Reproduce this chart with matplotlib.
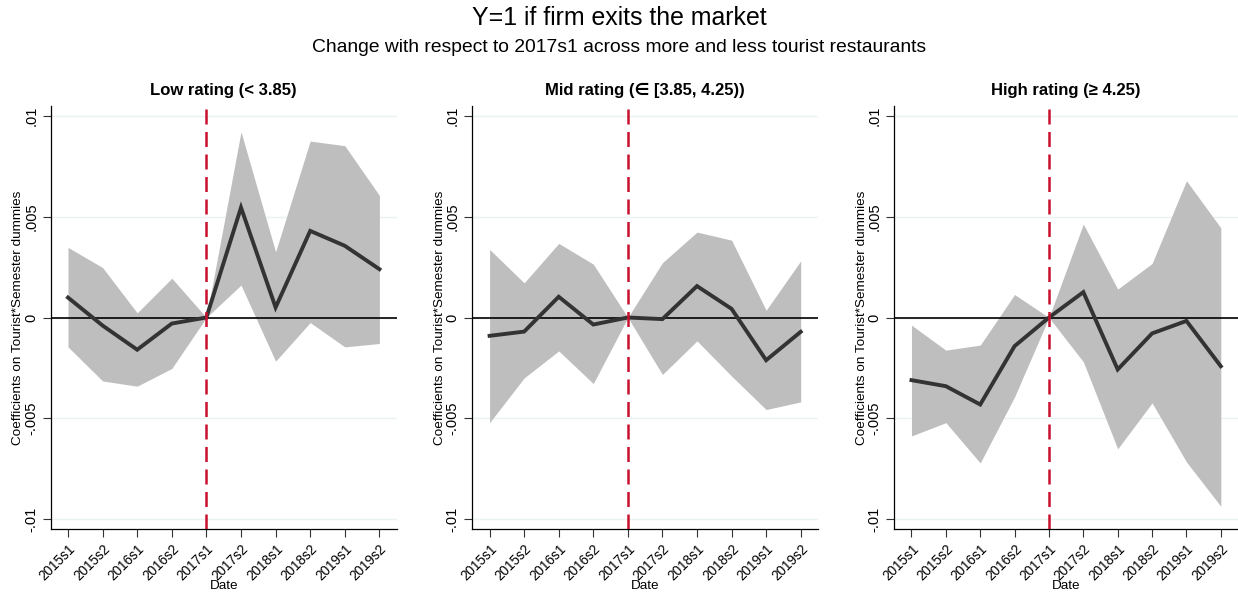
import numpy as np
import matplotlib
matplotlib.use('Agg')
import matplotlib.pyplot as plt

plt.rcParams['font.family'] = ['Liberation Sans', 'DejaVu Sans']

# Data
periods = ['2015s1', '2015s2', '2016s1', '2016s2', '2017s1',
           '2017s2', '2018s1', '2018s2', '2019s1', '2019s2']
panel_titles = ['Low rating (< 3.85)', 'Mid rating (\u2208 [3.85, 4.25))', 'High rating (\u2265 4.25)']

low_coef = [0.00099, -0.0004, -0.0016, -0.0003, 0.0, 0.00546, 0.0005, 0.0043, 0.00356, 0.0024]
low_hi = [0.00348, 0.00248, 0.00023, 0.00195, 0.0, 0.00922, 0.00326, 0.00876, 0.00853, 0.00606]
low_lo = [-0.00146, -0.00315, -0.00341, -0.00253, 0.0, 0.00161, -0.00217, -0.00025, -0.00146, -0.00129]

mid_coef = [-0.00091, -0.0007, 0.00103, -0.00035, 0.0, -0.00008, 0.00156, 0.00043, -0.00212, -0.00071]
mid_hi = [0.00338, 0.00172, 0.00368, 0.00265, 0.0, 0.00272, 0.00424, 0.00384, 0.00036, 0.00281]
mid_lo = [-0.00522, -0.003, -0.00166, -0.00328, 0.0, -0.00283, -0.00116, -0.00291, -0.00457, -0.00419]

high_coef = [-0.00311, -0.00341, -0.00432, -0.00142, 0.0, 0.00126, -0.00258, -0.00079, -0.00017, -0.00242]
high_hi = [-0.00038, -0.00162, -0.00137, 0.00114, 0.0, 0.00464, 0.00141, 0.00268, 0.00679, 0.00445]
high_lo = [-0.00588, -0.00522, -0.00722, -0.00394, 0.0, -0.0022, -0.00652, -0.00424, -0.00717, -0.00937]

yticks = [-0.01, -0.005, 0, 0.005, 0.01]
ytick_labels = ['-.01', '-.005', '0', '.005', '.01']

series = [(low_coef, low_lo, low_hi), (mid_coef, mid_lo, mid_hi), (high_coef, high_lo, high_hi)]

fig = plt.figure(figsize=(12.38, 5.92), dpi=100)
W, H = 1238, 592
lefts = [50.7, 472.3, 894.3]
rights = [396.7, 818, 1238]
top, bottom = 106, 529

x = np.arange(len(periods))
ref_idx = periods.index('2017s1')

for i, (coef, lo, hi) in enumerate(series):
    ax = fig.add_axes([lefts[i] / W, 1 - bottom / H, (rights[i] - lefts[i]) / W, (bottom - top) / H])
    for yt in yticks:
        ax.axhline(yt, color='#eaf2f3', lw=1.0, zorder=0)
    ax.fill_between(x, lo, hi, color='#bebebe', lw=0, zorder=1)
    ax.axhline(0, color='black', lw=1.2, zorder=2)
    ax.plot(x, coef, color='#333333', lw=2.8, zorder=3, solid_joinstyle='miter')
    ax.axvline(ref_idx, color='#c8102e', lw=1.8, ls=(0, (6, 3)), zorder=4)

    ax.set_xlim(-0.5, len(periods) - 0.5)
    ax.set_ylim(-0.0105, 0.0105)
    ax.set_xticks(x)
    ax.set_xticklabels(periods, rotation=45, ha='right', rotation_mode='anchor', fontsize=9.8)
    ax.set_yticks(yticks)
    ax.set_yticklabels(ytick_labels, rotation=90, va='center', fontsize=10.5)
    ax.tick_params(axis='both', length=6, width=0.8, color='#333333', pad=3)
    ax.tick_params(axis='x', pad=3)
    ax.set_xlabel('Date', fontsize=9.7, va='center')
    ax.xaxis.set_label_coords(0.5, -0.135)
    ax.set_ylabel('Coefficients on Tourist*Semester dummies', fontsize=9.7, va='center')
    ax.yaxis.set_label_coords(-0.094, 0.5)
    ax.set_title(panel_titles[i], fontsize=12, fontweight='bold', pad=8)
    for s in ['top', 'right']:
        ax.spines[s].set_visible(False)
    for s in ['left', 'bottom']:
        ax.spines[s].set_linewidth(0.9)

fig.text(0.5, 1 - 18 / H, 'Y=1 if firm exits the market', ha='center', va='center', fontsize=17.9)
fig.text(0.5, 1 - 48 / H, 'Change with respect to 2017s1 across more and less tourist restaurants',
         ha='center', va='center', fontsize=13.9)

fig.savefig('out.png', dpi=100)
